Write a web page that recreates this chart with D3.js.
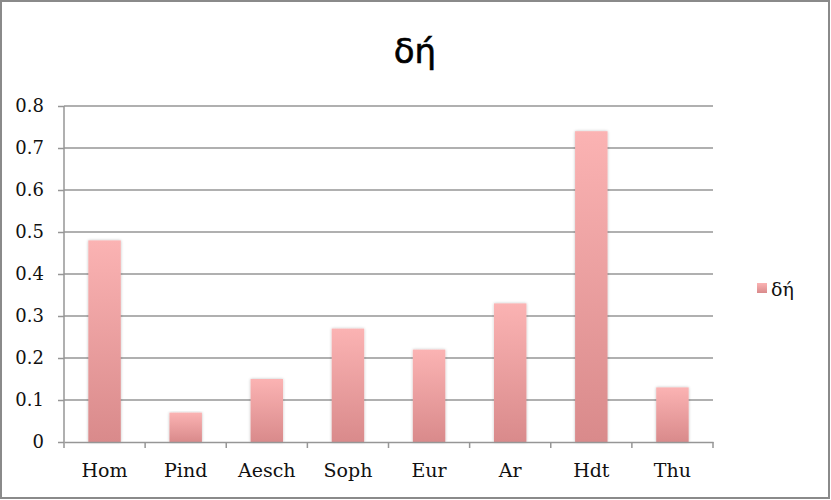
<!DOCTYPE html>
<html><head><meta charset="utf-8">
<script src="https://cdn.jsdelivr.net/npm/d3@7"></script>
<style>body{margin:0;background:#fff}</style>
</head><body>
<svg id="c" width="831" height="500"></svg>
<script>
const categories = ["Hom","Pind","Aesch","Soph","Eur","Ar","Hdt","Thu"];
const values = [0.48,0.07,0.15,0.27,0.22,0.33,0.74,0.13];
const yTicks = [0,0.1,0.2,0.3,0.4,0.5,0.6,0.7,0.8];
const seriesName = "δή";
const title = "δή";

const svg = d3.select("#c");
const W = 831, H = 500;
const m = {left:64, right:118, top:106, bottom:58};
const font = "'DejaVu Serif', 'Liberation Serif', serif";

svg.append("rect").attr("x",1).attr("y",1).attr("width",W-3).attr("height",H-3)
  .attr("fill","#fff").attr("stroke","#8a8a8a").attr("stroke-width",2);

const defs = svg.append("defs");
const g1 = defs.append("linearGradient").attr("id","bg").attr("x1",0).attr("y1",0).attr("x2",0).attr("y2",1);
g1.append("stop").attr("offset","0%").attr("stop-color","#fbb3b3");
g1.append("stop").attr("offset","100%").attr("stop-color","#d98a8b");
const f = defs.append("filter").attr("id","sh").attr("x","-20%").attr("y","-5%").attr("width","140%").attr("height","110%");
f.append("feGaussianBlur").attr("in","SourceAlpha").attr("stdDeviation",1.5).attr("result","b");
f.append("feOffset").attr("in","b").attr("dx",0).attr("dy",0).attr("result","o");
f.append("feComponentTransfer").attr("in","o").attr("result","o2").append("feFuncA").attr("type","linear").attr("slope",0.25);
const mg = f.append("feMerge"); mg.append("feMergeNode").attr("in","o2"); mg.append("feMergeNode").attr("in","SourceGraphic");

const x = d3.scaleBand().domain(categories).range([m.left, W-m.right]);
const y = d3.scaleLinear().domain([0,0.8]).range([H-m.bottom, m.top]);

// gridlines
svg.append("g").selectAll("line").data(yTicks.slice(1)).join("line")
  .attr("x1",m.left).attr("x2",W-m.right).attr("y1",d=>y(d)).attr("y2",d=>y(d))
  .attr("stroke","#969696").attr("stroke-width",1.5);

// y axis
const ya = svg.append("g").attr("transform",`translate(${m.left},0)`)
  .call(d3.axisLeft(y).tickValues(yTicks).tickSize(6).tickPadding(14).tickFormat(d=>d===0?"0":d3.format(".1f")(d)));
ya.select(".domain").attr("stroke","#969696").attr("stroke-width",1.5).attr("d",`M0,${y(0.8)}V${y(0)}`);
ya.selectAll(".tick line").attr("stroke","#969696").attr("stroke-width",1.5);
ya.selectAll("text").attr("font-family",font).attr("font-size",18).attr("fill","#111");

// bars
const bw = x.bandwidth()*0.4;
svg.append("g").selectAll("rect").data(values).join("rect")
  .attr("x",(d,i)=>x(categories[i])+x.bandwidth()/2-bw/2)
  .attr("width",bw)
  .attr("y",d=>y(d)).attr("height",d=>y(0)-y(d))
  .attr("fill","url(#bg)").attr("filter","url(#sh)");

// x axis
const xa = svg.append("g").attr("transform",`translate(0,${y(0)})`)
  .call(d3.axisBottom(x).tickSize(0).tickPadding(22));
xa.select(".domain").attr("stroke","#969696").attr("stroke-width",1.5);
xa.selectAll("text").attr("font-family",font).attr("font-size",19).attr("fill","#111");
svg.append("g").selectAll("line").data(categories.concat(["_end"])).join("line")
  .attr("x1",(d,i)=>m.left+i*x.step()).attr("x2",(d,i)=>m.left+i*x.step())
  .attr("y1",y(0)).attr("y2",y(0)+6).attr("stroke","#969696").attr("stroke-width",1.5);

// title
svg.append("text").attr("x",415).attr("y",63).attr("text-anchor","middle")
  .attr("font-family","'DejaVu Sans', sans-serif").attr("font-size",34)
  .attr("fill","#000").attr("stroke","#000").attr("stroke-width",0.6).text(title);

// legend
svg.append("rect").attr("x",757).attr("y",283).attr("width",10).attr("height",10).attr("fill","url(#bg)");
svg.append("text").attr("x",771).attr("y",296).attr("font-family",font).attr("font-size",19).attr("fill","#111").text(seriesName);
</script>
</body></html>
